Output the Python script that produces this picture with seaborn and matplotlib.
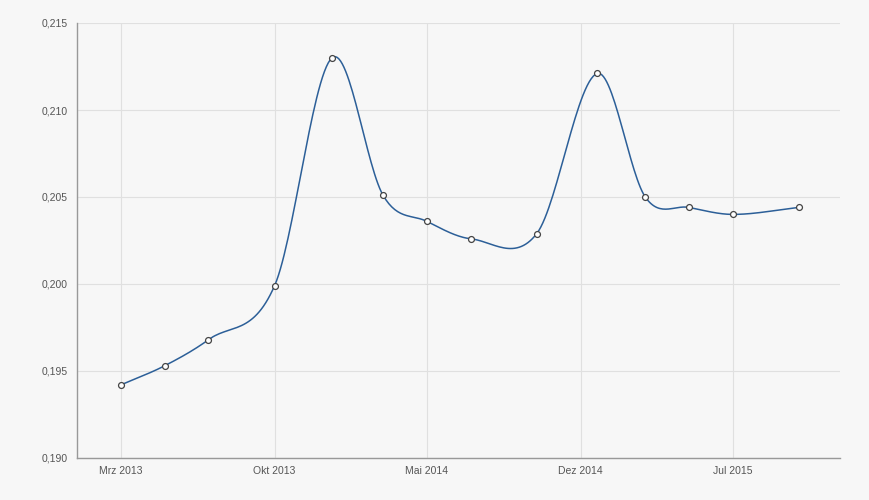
import numpy as np
import pandas as pd
import matplotlib
matplotlib.use("Agg")
import matplotlib.pyplot as plt
import matplotlib.dates as mdates
import seaborn as sns

# --- data ---
dates = ["2013-03-01", "2013-05-01", "2013-07-01", "2013-10-01", "2013-12-20",
         "2014-03-01", "2014-05-01", "2014-07-01", "2014-10-01", "2014-12-24",
         "2015-03-01", "2015-05-01", "2015-07-01", "2015-10-01"]
values = [0.1942, 0.1953, 0.1968, 0.1999, 0.2130,
          0.2051, 0.2036, 0.2026, 0.2029, 0.2121,
          0.2050, 0.2044, 0.2040, 0.2044]

tick_dates = ["2013-03-01", "2013-10-01", "2014-05-01", "2014-12-01", "2015-07-01"]
tick_labels = ["Mrz 2013", "Okt 2013", "Mai 2014", "Dez 2014", "Jul 2015"]
y_ticks = [0.190, 0.195, 0.200, 0.205, 0.210, 0.215]
y_labels = ["0,190", "0,195", "0,200", "0,205", "0,210", "0,215"]

df = pd.DataFrame({"datum": pd.to_datetime(dates), "wert": values})


# smooth curve through the points (cardinal spline, like the web chart)
def smooth(x, y, n=30):
    x = np.asarray(x, float)
    y = np.asarray(y, float)
    m = np.zeros_like(y)
    m[1:-1] = (y[2:] - y[:-2]) / (x[2:] - x[:-2])
    m[0] = (y[1] - y[0]) / (x[1] - x[0])
    m[-1] = (y[-1] - y[-2]) / (x[-1] - x[-2])
    xs, ys = [], []
    for i in range(len(x) - 1):
        h = x[i + 1] - x[i]
        t = np.linspace(0, 1, n, endpoint=False)
        h00 = 2 * t**3 - 3 * t**2 + 1
        h10 = t**3 - 2 * t**2 + t
        h01 = -2 * t**3 + 3 * t**2
        h11 = t**3 - t**2
        xs.append(x[i] + t * h)
        ys.append(h00 * y[i] + h10 * h * m[i] + h01 * y[i + 1] + h11 * h * m[i + 1])
    xs.append([x[-1]])
    ys.append([y[-1]])
    return np.concatenate(xs), np.concatenate(ys)


xnum = mdates.date2num(df["datum"])
sx, sy = smooth(xnum, df["wert"])
curve = pd.DataFrame({"datum": mdates.num2date(sx), "wert": sy})

sns.set_style("white")
plt.rcParams["font.family"] = ["Liberation Sans", "DejaVu Sans"]

fig = plt.figure(figsize=(8.7, 5), dpi=100)
fig.patch.set_facecolor("#f7f7f7")
ax = fig.add_axes([0.0885, 0.084, 0.877, 0.87])
ax.set_facecolor("#f7f7f7")

sns.lineplot(data=curve, x="datum", y="wert", ax=ax, color="#2c5f98", linewidth=1.1,
             estimator=None, sort=False)
sns.scatterplot(data=df, x="datum", y="wert", ax=ax, s=18, facecolor="white",
                edgecolor="#444444", linewidth=0.9, zorder=5)

ax.set_xlim(pd.Timestamp("2012-12-30"), pd.Timestamp("2015-11-27"))
ax.set_ylim(0.190, 0.215)
ax.set_xticks(pd.to_datetime(tick_dates))
ax.set_xticklabels(tick_labels)
ax.set_yticks(y_ticks)
ax.set_yticklabels(y_labels)

ax.grid(True, color="#e0e0e0", linewidth=0.8)
ax.set_axisbelow(True)
ax.tick_params(axis="both", labelsize=7.5, colors="#555555", length=4, color="#e0e0e0", pad=3)
ax.tick_params(axis="x", length=0, pad=6)
ax.set_xlabel("")
ax.set_ylabel("")

for s in ["top", "right"]:
    ax.spines[s].set_visible(False)
for s in ["left", "bottom"]:
    ax.spines[s].set_color("#999999")
    ax.spines[s].set_linewidth(1)

fig.savefig("out.png", dpi=100, facecolor=fig.get_facecolor())
